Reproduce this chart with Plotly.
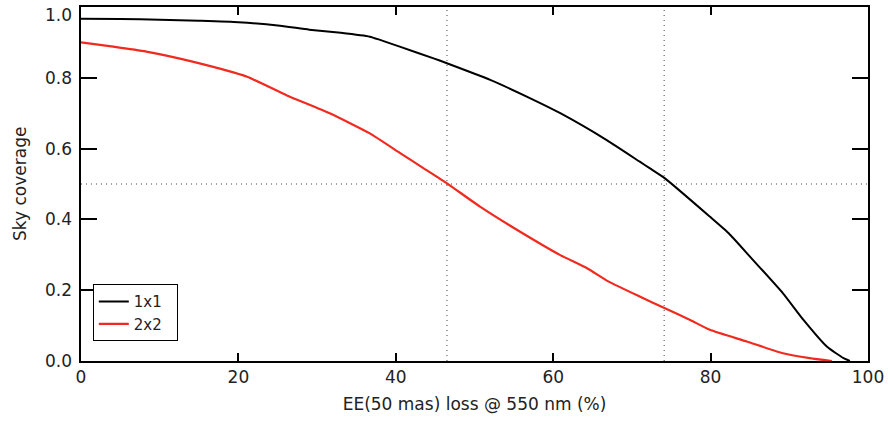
import plotly.graph_objects as go

# 1x1 series (black)
x_1x1 = [0, 5, 10, 15, 20, 25, 29, 33, 36.7, 38, 40.5, 44.8, 46.5, 52, 57.1, 60.9,
         66.8, 71, 72.3, 74.2, 79.9, 82.3, 85, 89.2, 91.8, 94.8, 96.9, 97.7]
y_1x1 = [0.967, 0.966, 0.964, 0.961, 0.957, 0.948, 0.936, 0.927, 0.916, 0.907, 0.888,
         0.855, 0.841, 0.794, 0.742, 0.700, 0.624, 0.563, 0.544, 0.516, 0.408, 0.361,
         0.295, 0.191, 0.116, 0.040, 0.008, 0.0]

# 2x2 series (red)
x_2x2 = [0, 4.1, 8.3, 14.3, 21.1, 26.1, 31.6, 36.7, 40.5, 43.5, 46.5, 50.7, 55.8,
         60.9, 64.3, 67, 71, 74.2, 77.4, 79.9, 84.6, 89.2, 92.6, 95.4]
y_2x2 = [0.900, 0.888, 0.874, 0.845, 0.803, 0.751, 0.700, 0.643, 0.588, 0.545, 0.502,
         0.436, 0.365, 0.299, 0.262, 0.225, 0.182, 0.149, 0.116, 0.088, 0.055, 0.022,
         0.008, 0.0]

# reference lines
vlines = [46.5, 74.1]
hlines = [0.5]

x_ticks = [0, 20, 40, 60, 80, 100]
y_ticks = [0.0, 0.2, 0.4, 0.6, 0.8, 1.0]
y_tick_labels = ["0.0", "0.2", "0.4", "0.6", "0.8", "1.0"]

FONT = "DejaVu Sans"
TXT = "#222222"

fig = go.Figure()
fig.add_trace(go.Scatter(x=x_1x1, y=y_1x1, mode="lines", name="1x1\u00a0\u00a0",
                         line=dict(color="black", width=2, shape="spline", smoothing=0.5)))
fig.add_trace(go.Scatter(x=x_2x2, y=y_2x2, mode="lines", name="2x2\u00a0\u00a0",
                         line=dict(color="#f02a1e", width=2.2, shape="spline", smoothing=0.5)))

for v in vlines:
    fig.add_shape(type="line", xref="x", yref="paper", x0=v, x1=v, y0=0, y1=1,
                  line=dict(color="#444444", width=1, dash="1px,4px"), layer="below")
for h in hlines:
    fig.add_shape(type="line", xref="paper", yref="y", x0=0, x1=1, y0=h, y1=h,
                  line=dict(color="#444444", width=1, dash="1px,4px"), layer="below")

for v, t in zip(y_ticks, y_tick_labels):
    fig.add_annotation(x=0, xref="paper", y=v, yref="y", text=t, showarrow=False,
                       xanchor="right", yanchor="middle", xshift=-7,
                       yshift=(-8 if v == 1.0 else 0),
                       font=dict(family=FONT, size=17, color=TXT))

fig.update_xaxes(range=[x_ticks[0], x_ticks[-1]], tickmode="array", tickvals=x_ticks,
                 ticks="inside", ticklen=8, tickwidth=1.5, tickcolor="black",
                 showline=True, linecolor="black", linewidth=1.5, mirror="allticks",
                 showgrid=False, zeroline=False, automargin=False,
                 tickfont=dict(family=FONT, size=17, color=TXT),
                 title=dict(text="EE(50 mas) loss @ 550 nm (%)", standoff=12,
                            font=dict(family=FONT, size=17, color=TXT)))
fig.update_yaxes(range=[y_ticks[0], y_ticks[-1]], tickmode="array", tickvals=y_ticks,
                 ticks="inside", ticklen=16, tickwidth=1.5, tickcolor="black",
                 showline=True, linecolor="black", linewidth=1.5, mirror="allticks",
                 showgrid=False, zeroline=False, automargin=False, showticklabels=False)

fig.add_annotation(x=0, xref="paper", y=0.5, yref="paper",
                   text="Sky coverage", showarrow=False, textangle=-90,
                   xanchor="center", yanchor="middle", xshift=-61,
                   font=dict(family=FONT, size=17, color=TXT))

fig.update_layout(
    width=888, height=425,
    margin=dict(l=81, r=20, t=7, b=64, autoexpand=False),
    paper_bgcolor="white", plot_bgcolor="white",
    showlegend=True,
    legend=dict(x=0.015, y=0.056, xanchor="left", yanchor="bottom",
                bordercolor="black", borderwidth=1, bgcolor="white",
                font=dict(family=FONT, size=15, color=TXT),
                tracegroupgap=0, itemwidth=30),
)

fig.write_html("out.html")
